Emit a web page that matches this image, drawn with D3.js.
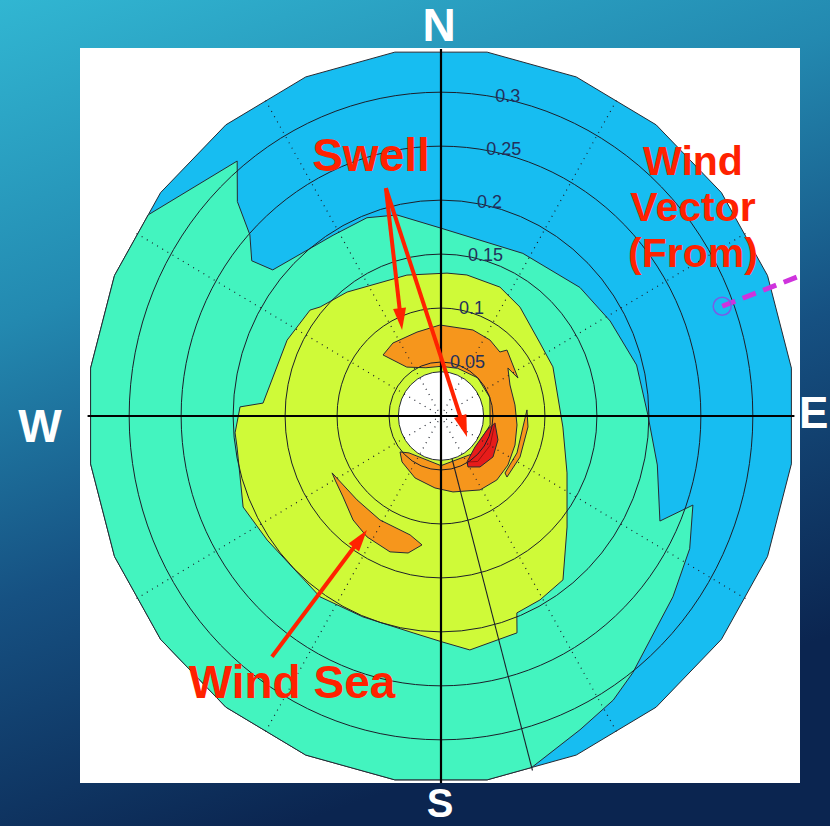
<!DOCTYPE html>
<html>
<head>
<meta charset="utf-8">
<script src="https://cdn.jsdelivr.net/npm/d3@7/dist/d3.min.js"></script>
<style>
  html, body { margin: 0; padding: 0; }
  body { width: 830px; height: 826px; overflow: hidden; }
  svg { display: block; }
</style>
</head>
<body>
<svg id="chart" width="830" height="826"></svg>
<script>
// ---- Directional wave spectrum (direction in degrees "from", frequency in Hz) ----

// direction bin centres of the spectrum grid
const dirBins = [7.5, 22.5, 37.5, 52.5, 67.5, 82.5, 97.5, 112.5, 127.5, 142.5, 157.5, 172.5,
                 187.5, 202.5, 217.5, 232.5, 247.5, 262.5, 277.5, 292.5, 307.5, 322.5, 337.5, 352.5];
const freqMin = 0.041;
const freqMax = 0.34;

// frequency rings and their labels
const ringFreqs  = [0.05, 0.1, 0.15, 0.2, 0.25, 0.3];
const ringLabels = ["0.05", "0.1", "0.15", "0.2", "0.25", "0.3"];
const labelDir = 10;

// dotted direction spokes and the solid compass axes
const spokeDirs = [30, 60, 120, 150, 210, 240, 300, 330];
const axisDirs  = [0, 90, 180, 270];
const peakDir = 165;

// contour level colours (lowest to highest energy)
const levelColors = ["#17bdf1", "#43f4bf", "#cffa38", "#f6961c", "#e61c1a"];

// filled contour regions, [direction, frequency]
const regionLevel2 = [
  [303.5, 0.3377], [320.3, 0.307], [315.4, 0.279], [312.4, 0.249], [308.3, 0.232], [309.9, 0.211],
  [328.2, 0.197], [338.8, 0.197], [347.2, 0.191], [0, 0.174], [27.6, 0.170], [48.3, 0.179],
  [61.6, 0.185], [75.9, 0.194], [89.7, 0.199], [102.3, 0.213], [114.8, 0.232], [108.8, 0.256],
  [117.2, 0.269], [126.9, 0.279], [142.2, 0.301], [147.8, 0.311], [155.3, 0.320], [165, 0.3371],
  [172.5, 0.34], [187.5, 0.34], [202.5, 0.34], [217.5, 0.34], [232.5, 0.34], [247.5, 0.34],
  [262.5, 0.34], [277.5, 0.34], [292.5, 0.34]
];
const regionLevel3 = [
  [2.5, 0.1325], [10.8, 0.133], [25.4, 0.1322], [37, 0.1263], [54.6, 0.1168], [67.1, 0.1169],
  [95, 0.1177], [113.5, 0.1322], [130.3, 0.159], [142.3, 0.1919], [150.8, 0.1952], [158.2, 0.1965],
  [160, 0.2138], [172.7, 0.2185], [179.7, 0.2093], [187.6, 0.2027], [202, 0.2007], [214.8, 0.204],
  [235.5, 0.2029], [246.1, 0.2082], [261.7, 0.1983], [265.5, 0.1987], [272.5, 0.1935], [274, 0.1716],
  [295.4, 0.1639], [307.9, 0.1597], [311, 0.154], [321.8, 0.1461], [345.9, 0.1346]
];
const regionSwell = [
  [315.4, 0.0794], [325.6, 0.0819], [343.5, 0.0811], [359.3, 0.0843], [21.1, 0.0854], [33.8, 0.0847],
  [43.7, 0.082], [46.1, 0.0881], [64.6, 0.082], [55.4, 0.0782], [66.6, 0.0723], [81.8, 0.0719],
  [96.5, 0.0736], [110.7, 0.0761], [125.2, 0.0788], [137.8, 0.08], [151.3, 0.0781], [170.7, 0.0713],
  [185, 0.0669], [203.5, 0.0626], [221.4, 0.0567], [229.8, 0.0516],
  [222, 0.046], [180, 0.046], [140, 0.046], [100, 0.048], [70, 0.05], [45, 0.05],
  [20, 0.047], [0, 0.046], [342, 0.047], [324, 0.056]
];
const regionSwellSliver = [
  [86.1, 0.0829], [96.9, 0.0843], [116.6, 0.085], [131.7, 0.085], [130.6, 0.0811], [115.1, 0.0807], [97.4, 0.0795]
];
const regionWindSea = [
  [243.3, 0.1173], [226.1, 0.1121], [211.4, 0.1128], [195.1, 0.1141], [188.7, 0.1208], [194, 0.1308],
  [201.3, 0.1351], [212.4, 0.1327], [221.3, 0.1282], [231.5, 0.1204], [239.8, 0.1179]
];
const regionPeak = [
  [97.1, 0.0523], [112, 0.0591], [127.2, 0.0628], [141.5, 0.0603], [151.2, 0.0539], [149.6, 0.0494],
  [131.3, 0.0435], [106.4, 0.0461]
];
const peakInner = [[97.1, 0.0523], [120, 0.0545], [140, 0.055], [149.6, 0.0494]];

// wind vector (direction from) and its frequency extent
const windDir = 69.4;
const windFreqs = [0.289, 0.369];

// annotations: [direction, frequency] of arrow tails and tips
const swellArrows = [
  {from: [345.9, 0.2176], to: [334.8, 0.088]},
  {from: [345.9, 0.2176], to: [127.9, 0.0317]}
];
const windSeaArrow = {from: [216.1, 0.276], to: [214, 0.1273]};

// ---- layout ----
const W = 830, H = 826;
const cx = 441, cy = 416;
const aspect = 0.963;
const R = d3.scaleLinear().domain([0, freqMax]).range([0, 367]);
const rad = a => a * Math.PI / 180;
const px = (a, f) => cx + aspect * R(f) * Math.sin(rad(a));
const py = (a, f) => cy - R(f) * Math.cos(rad(a));

const svg = d3.select("#chart");
const defs = svg.append("defs");
const grad = defs.append("linearGradient").attr("id", "bg")
  .attr("gradientUnits", "userSpaceOnUse")
  .attr("x1", 0).attr("y1", 0).attr("x2", 290).attr("y2", 826);
[["0", "#31b6d2"], ["0.35", "#2389b0"], ["0.65", "#165182"], ["1", "#0b2550"]]
  .forEach(([o, c]) => grad.append("stop").attr("offset", o).attr("stop-color", c));

svg.append("rect").attr("width", W).attr("height", H).attr("fill", "url(#bg)");
svg.append("rect").attr("x", 80).attr("y", 48).attr("width", 720).attr("height", 735).attr("fill", "#ffffff");

const plot = svg.append("g");
const closed = d3.line().x(d => px(d[0], d[1])).y(d => py(d[0], d[1])).curve(d3.curveLinearClosed);
const open = d3.line().x(d => px(d[0], d[1])).y(d => py(d[0], d[1]));

// outer domain (lowest level)
const outer = dirBins.map(a => [a, freqMax]);
function region(data, color) {
  plot.append("path").attr("d", closed(data))
    .attr("fill", color).attr("stroke", "#262a33").attr("stroke-width", 1).attr("stroke-linejoin", "round");
}
region(outer, levelColors[0]);
region(regionLevel2, levelColors[1]);
region(regionLevel3, levelColors[2]);
region(regionSwell, levelColors[3]);
region(regionSwellSliver, levelColors[3]);
region(regionWindSea, levelColors[3]);
region(regionPeak, levelColors[4]);
plot.append("path").attr("d", open(peakInner)).attr("fill", "none").attr("stroke", "#9a1010").attr("stroke-width", 1);

// inner (unresolved) frequencies
plot.append("ellipse").attr("cx", cx).attr("cy", cy)
  .attr("rx", aspect * R(freqMin)).attr("ry", R(freqMin))
  .attr("fill", "#ffffff").attr("stroke", "#262a33").attr("stroke-width", 1);

// frequency rings
plot.selectAll("ellipse.ring").data(ringFreqs).join("ellipse").attr("class", "ring")
  .attr("cx", cx).attr("cy", cy)
  .attr("rx", f => aspect * R(f)).attr("ry", f => R(f))
  .attr("fill", "none").attr("stroke", "#1c1f2a").attr("stroke-width", 1);

// dotted spokes
plot.selectAll("line.spoke").data(spokeDirs).join("line").attr("class", "spoke")
  .attr("x1", a => px(a, 0)).attr("y1", a => py(a, 0))
  .attr("x2", a => px(a, freqMax)).attr("y2", a => py(a, freqMax))
  .attr("stroke", "#1c1f2a").attr("stroke-width", 1.2).attr("stroke-dasharray", "1,5");

// compass axes
plot.selectAll("line.axis").data(axisDirs).join("line").attr("class", "axis")
  .attr("x1", a => px(a, 0)).attr("y1", a => py(a, 0))
  .attr("x2", a => px(a, freqMax)).attr("y2", a => py(a, freqMax))
  .attr("stroke", "#000").attr("stroke-width", 2.2);

// peak direction line
plot.append("line")
  .attr("x1", px(peakDir, freqMin)).attr("y1", py(peakDir, freqMin))
  .attr("x2", px(peakDir, freqMax)).attr("y2", py(peakDir, freqMax))
  .attr("stroke", "#1c1f2a").attr("stroke-width", 1.1);

// ring labels
plot.selectAll("text.rl").data(ringFreqs).join("text").attr("class", "rl")
  .attr("x", f => px(labelDir, f)).attr("y", f => py(labelDir, f))
  .attr("dominant-baseline", "middle")
  .attr("font-family", "'Liberation Sans', Arial, sans-serif").attr("font-size", 18)
  .attr("fill", "#23305c")
  .text((f, i) => ringLabels[i]);

// wind vector
plot.append("line")
  .attr("x1", px(windDir, windFreqs[0])).attr("y1", py(windDir, windFreqs[0]))
  .attr("x2", px(windDir, windFreqs[1])).attr("y2", py(windDir, windFreqs[1]))
  .attr("stroke", "#cf33dd").attr("stroke-width", 5).attr("stroke-dasharray", "14,8");
plot.append("circle").attr("cx", px(windDir, windFreqs[0])).attr("cy", py(windDir, windFreqs[0]))
  .attr("r", 9).attr("fill", "none").attr("stroke", "#7a5ce6").attr("stroke-width", 1.5);

// annotation arrows
const red = "#ff2200";
function arrow(a) {
  const x1 = px(a.from[0], a.from[1]), y1 = py(a.from[0], a.from[1]);
  const x2 = px(a.to[0], a.to[1]), y2 = py(a.to[0], a.to[1]);
  const L = Math.hypot(x2 - x1, y2 - y1), ux = (x2 - x1) / L, uy = (y2 - y1) / L;
  const hl = 22, hw = 6.5;
  const bx = x2 - ux * hl, by = y2 - uy * hl;
  svg.append("line").attr("x1", x1).attr("y1", y1).attr("x2", bx + ux * 4).attr("y2", by + uy * 4)
    .attr("stroke", red).attr("stroke-width", 4);
  svg.append("path")
    .attr("d", `M${x2},${y2}L${bx - uy * hw},${by + ux * hw}L${bx + uy * hw},${by - ux * hw}Z`)
    .attr("fill", red);
}
swellArrows.forEach(arrow);
arrow(windSeaArrow);

// annotation text
const font = "'Liberation Sans', Arial, Helvetica, sans-serif";
function label(txt, x, y, size, anchor, color) {
  svg.append("text").attr("x", x).attr("y", y).attr("text-anchor", anchor || "middle")
    .attr("font-family", font).attr("font-weight", "bold").attr("font-size", size)
    .attr("fill", color).text(txt);
}
label("Swell", 371, 171, 46, "middle", red);
label("Wind", 693, 175, 41, "middle", red);
label("Vector", 693, 221, 41, "middle", red);
label("(From)", 693, 267, 41, "middle", red);
label("Wind Sea", 292, 698, 46, "middle", red);

// compass points
label("N", 439, 41, 46, "middle", "#ffffff");
label("S", 440, 817, 40, "middle", "#ffffff");
label("W", 40, 442, 46, "middle", "#ffffff");
label("E", 799, 428, 44, "start", "#ffffff");
</script>
</body>
</html>
